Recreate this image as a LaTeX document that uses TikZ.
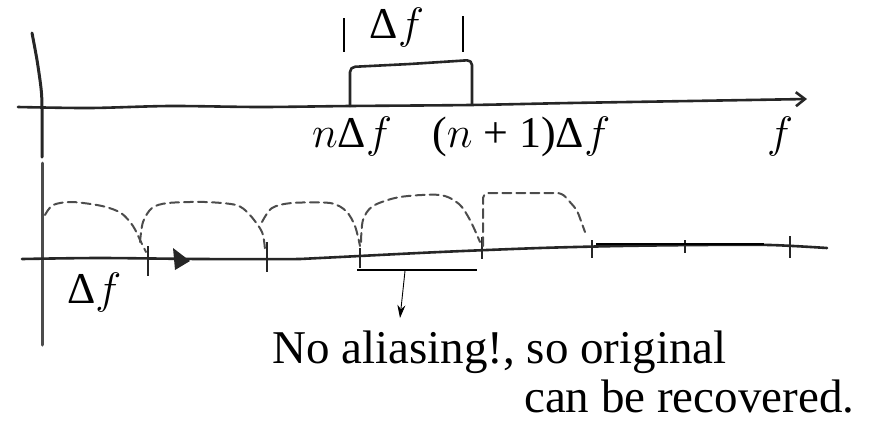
\documentclass[tikz,border=0pt]{standalone}
\usepackage{fix-cm}
\usepackage{fontspec}
\setmainfont{Liberation Serif}
\usetikzlibrary{arrows.meta}

\begin{document}
\begin{tikzpicture}[x=1pt, y=-1pt,
    sketch/.style={line width=2.6pt, draw=black!85, line cap=round, line join=round},
    lobe/.style={line width=2pt, draw=black!70, dash pattern=on 9pt off 5pt, line cap=round},
    tick/.style={line width=2.8pt, draw=black!85},
    bar/.style={line width=1.7pt, draw=black},
    pointer/.style={-{Stealth[length=13pt,width=8pt]}, line width=0.9pt},
    lbl/.style={font=\fontsize{44}{48}\selectfont, inner sep=0pt, anchor=base west},
    note/.style={font=\fontsize{47}{51}\selectfont, inner sep=0pt, anchor=base west}]
  \useasboundingbox (0,0) rectangle (873,421);

  % vertical axis
  \draw[sketch, line width=3pt] plot[smooth] coordinates {(32,33) (37,60) (41,88) (42,107) (42,157)};
  \draw[sketch, line width=3pt, draw=black!70] (42,163) -- (42,345);

  % top spectrum
  \draw[sketch, -{Straight Barb[length=9pt,width=14pt]}] plot[smooth] coordinates
    {(18,107) (90,108) (170,106) (260,107) (350,106) (470,105) (570,103) (690,101) (807,99)};
  \draw[sketch, rounded corners=5pt] (350,106) -- (350,67) -- (410,64) -- (472,60) -- (472,104);
  \draw[bar] (344,18) -- (344,52);
  \draw[bar] (463,16) -- (463,52);
  \node[lbl, anchor=base] (dtop) at (397,38) {Δ\ensuremath{f}};
  \node[lbl] (nlow) at (312,147) {\ensuremath{n}Δ\ensuremath{f}};
  \node[lbl] (nhigh) at (432,147) {(\ensuremath{n} + 1)Δ\ensuremath{f}};
  \node[lbl, anchor=base] (faxis) at (780,147) {\ensuremath{f}};

  % bottom spectrum
  \draw[sketch] plot[smooth] coordinates
    {(22,259) (100,258) (200,259) (300,259) (340,257) (440,252) (540,248) (620,246) (700,245) (770,245) (827,248)};
  \foreach \tx/\ta/\tb in {148/246/276, 267/242/272, 360/248/268, 482/237/259, 592/240/258, 685/240/253, 790/236/258}
    \draw[tick] (\tx,\ta) -- (\tx,\tb);
  \fill[black!85] (173,248) -- (190,261) -- (175,270) -- cycle;

  % shifted copies
  \draw[lobe] plot[smooth] coordinates {(45,215) (53,205) (72,202) (102,206) (121,213) (133,226) (141,242) (146,252)};
  \draw[lobe] plot[smooth] coordinates {(140,242) (143,222) (152,208) (168,203) (205,202) (236,205) (249,214) (262,232) (265,250)};
  \draw[lobe] plot[smooth] coordinates {(262,222) (272,208) (292,203) (330,203) (346,211) (355,226) (360,246)};
  \draw[lobe] plot[smooth] coordinates {(361,242) (363,220) (373,206) (400,197) (440,195) (459,204) (470,220) (480,242)};
  \draw[lobe, rounded corners=5pt] (483,246) -- (483,193) -- (562,193) -- (577,210) -- (585,232);

  % annotation
  \draw[bar] (357,270) -- (477,270);
  \draw[bar, line width=2.2pt] (596,244) -- (764,244);
  \coordinate (nomix) at (405,271);
  \coordinate (tipend) at (400,318);
  \draw[pointer] (nomix) -- (tipend);
  \node[lbl] (dbot) at (67,303) {Δ\ensuremath{f}};
  \node[note] (note1) at (272,363) {No aliasing!, so original};
  \node[note] (note2) at (524,412) {can be recovered.};
\end{tikzpicture}
\end{document}
